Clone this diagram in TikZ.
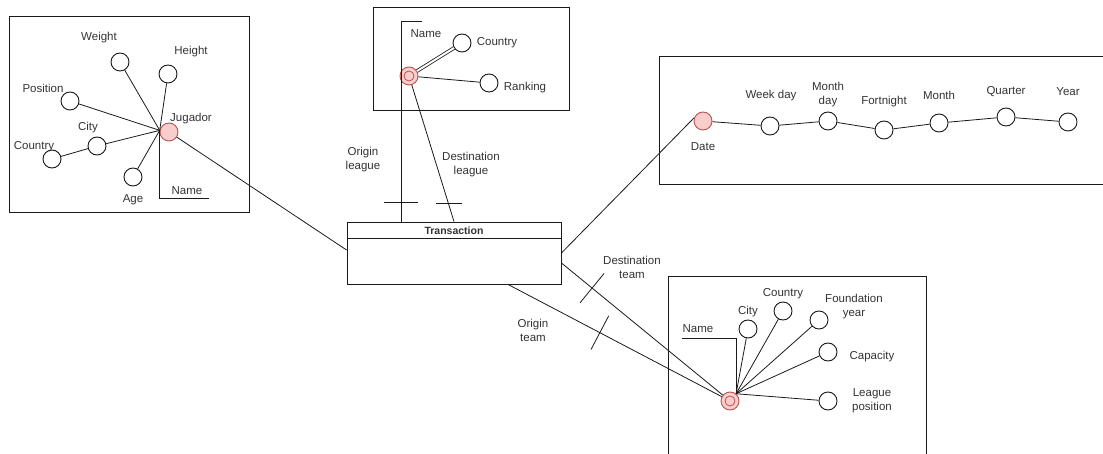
\documentclass[tikz,border=0pt]{standalone}
\usepackage{fontspec}
\setmainfont{Liberation Sans}
\usetikzlibrary{calc,decorations.markings}
\definecolor{ink}{HTML}{1A1A1A}
\definecolor{txt}{HTML}{333333}
\definecolor{keyfill}{HTML}{F8CECC}
\definecolor{keyline}{HTML}{B85450}
\tikzset{
  attr/.style={circle, draw=ink, fill=white, minimum size=18pt, inner sep=0pt, line width=0.9pt},
  keyattr/.style={circle, draw=keyline, fill=keyfill, minimum size=18pt, inner sep=0pt, line width=0.9pt},
  dualkey/.style={keyattr, path picture={\draw[keyline, line width=0.8pt] (path picture bounding box.center) circle (5pt);}},
  lbl/.style={text=txt, font=\fontsize{11.5}{14}\selectfont, align=center, inner sep=0pt},
  frame/.style={draw=ink, line width=0.9pt},
  conn/.style={draw=ink, line width=0.8pt},
  % short bar across a connector, perpendicular to it
  tick/.style 2 args={postaction={decorate, decoration={markings,
      mark=at position #1 with {\draw[ink, line width=0.8pt] (0,-#2) -- (0,#2);}}}},
  % short horizontal bar across a connector
  htick/.style 2 args={postaction={decorate, decoration={markings,
      mark=at position #1 with {\pgftransformresetnontranslations
        \draw[ink, line width=0.8pt] (-#2,0) -- (#2,0);}}}}
}
\begin{document}
\begin{tikzpicture}[x=1pt, y=-1pt]
\useasboundingbox (0,0) rectangle (1103,454);

% ---------- player dimension ----------
\draw[frame] (9,16) rectangle (249,212);
\node[keyattr] (jug) at (169,132) {};
\coordinate (jh) at (jug.170);
\node[attr] (weight) at (120,62) {};
\node[attr] (height) at (168,74) {};
\node[attr] (position) at (70,101) {};
\node[attr] (pcity) at (97,146) {};
\node[attr] (pcountry) at (52,159) {};
\node[attr] (age) at (133,177) {};
\coordinate (pname) at (209,198);
\draw[conn] (weight) -- (jh);
\draw[conn] (height) -- (jh);
\draw[conn] (position) -- (jh);
\draw[conn] (pcity) -- (jh);
\draw[conn] (pcountry) -- (pcity);
\draw[conn] (age) -- (jh);
\draw[conn] (jh) |- (pname);
\node[lbl] (lweight) at (99,38) {Weight};
\node[lbl] (lheight) at (191,52) {Height};
\node[lbl] (lposition) at (43,88) {Position};
\node[lbl] (lpcity) at (88,128) {City};
\node[lbl] (lpcountry) at (34,147) {Country};
\node[lbl] (ljug) at (191,119) {Jugador};
\node[lbl] (lage) at (133,200) {Age};
\node[lbl] (lpname) at (187,191) {Name};

% ---------- league dimension ----------
\draw[frame] (373,7) rectangle (569,110);
\node[dualkey] (league) at (409,76) {};
\node[attr] (lcountry) at (462,43) {};
\node[attr] (ranking) at (489,83) {};
\draw[conn, double=white, double distance=2pt] (league) -- (lcountry);
\draw[conn] (league) -- (ranking);
\node[lbl] (llname) at (426,34) {Name};
\node[lbl] (llcountry) at (497,43) {Country};
\node[lbl] (lranking) at (525,88) {Ranking};
\coordinate (lnameend) at (422,21);

% ---------- fact table ----------
\node[frame, fill=white, minimum width=214pt, minimum height=62pt, inner sep=0pt] (tr) at (454,253) {};
\draw[frame] ($(tr.north west)+(0,17)$) -- ($(tr.north east)+(0,17)$);
\node[font=\fontsize{10.5}{12}\selectfont\bfseries, text=txt] (trtitle) at (454,231) {Transaction};

% league roles
\draw[conn, tick={0.91}{17}] (lnameend) -- (401,21) -- (401,222);
\draw[conn, htick={0.87}{13}] (league) -- (tr.north);
\node[lbl] (lorigl) at (363,160) {Origin\\league};
\node[lbl] (ldestl) at (471,165) {Destination\\league};

% player link
\draw[conn] (jug) -- ($(tr.west)+(0,-3)$);

% ---------- date dimension ----------
\draw[frame] (1103,56) -- (659,56) -- (659,184) -- (1103,184);
\node[keyattr] (date) at (703,121) {};
\node[attr] (weekday) at (770,126) {};
\node[attr] (monthday) at (828,121) {};
\node[attr] (fortnight) at (884,130) {};
\node[attr] (month) at (939,123) {};
\node[attr] (quarter) at (1006,117) {};
\node[attr] (year) at (1068,122) {};
\draw[conn] (date) -- (weekday) -- (monthday) -- (fortnight) -- (month) -- (quarter) -- (year);
\draw[conn] (date.160) -- (tr.east);
\node[lbl] (lweekday) at (771,96) {Week day};
\node[lbl] (lmonthday) at (828,95) {Month\\day};
\node[lbl] (lfortnight) at (884,102) {Fortnight};
\node[lbl] (lmonth) at (939,95) {Month};
\node[lbl] (lquarter) at (1006,92) {Quarter};
\node[lbl] (lyear) at (1068,92) {Year};
\node[lbl] (ldate) at (703,147) {Date};

% ---------- team dimension ----------
\draw[frame] (668,454) -- (668,276) -- (926,276) -- (926,454);
\node[dualkey] (team) at (730,401) {};
\coordinate (th) at (team.50);
\node[attr] (tcity) at (748,329) {};
\node[attr] (tcountry) at (783,311) {};
\node[attr] (found) at (819,320) {};
\node[attr] (capacity) at (828,352) {};
\node[attr] (lpos) at (828,401) {};
\coordinate (tname) at (682,338);
\draw[conn] (th) -- (tcity);
\draw[conn] (th) -- (tcountry);
\draw[conn] (th) -- (found);
\draw[conn] (th) -- (capacity);
\draw[conn] (th) -- (lpos);
\draw[conn] (th) |- (tname);
\node[lbl] (ltcity) at (748,312) {City};
\node[lbl] (ltcountry) at (783,294) {Country};
\node[lbl] (lfound) at (854,307) {Foundation\\year};
\node[lbl] (lcapacity) at (872,357) {Capacity};
\node[lbl] (llpos) at (872,401) {League\\position};
\node[lbl] (ltname) at (698,329) {Name};

% team roles
\draw[conn, tick={0.19}{19}] ($(tr.east)+(0,10)$) -- (team);
\draw[conn, tick={0.43}{19}] ($(tr.south)+(54,0)$) -- (team);
\node[lbl] (ldestt) at (632,267) {Destination\\team};
\node[lbl] (lorigt) at (533,330) {Origin\\team};
\end{tikzpicture}
\end{document}
